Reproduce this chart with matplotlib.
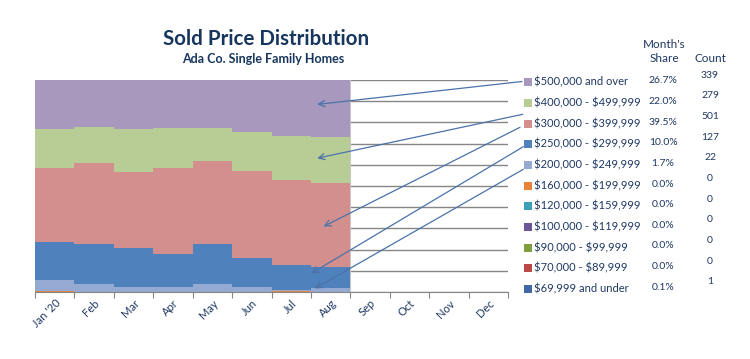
import numpy as np
import matplotlib
matplotlib.use("Agg")
from matplotlib import pyplot as plt
from matplotlib.patches import Rectangle

plt.rcParams['font.family'] = ['Lato', 'DejaVu Sans']
plt.rcParams['text.parse_math'] = False

# months on the axis
months = ["Jan '20", "Feb", "Mar", "Apr", "May", "Jun", "Jul", "Aug",
          "Sep", "Oct", "Nov", "Dec"]

# price ranges, bottom of stack first
ranges = ["$69,999 and under", "$70,000 - $89,999", "$90,000 - $99,999",
          "$100,000 - $119,999", "$120,000 - $159,999", "$160,000 - $199,999",
          "$200,000 - $249,999", "$250,000 - $299,999", "$300,000 - $399,999",
          "$400,000 - $499,999", "$500,000 and over"]

# monthly share (%) for Jan..Aug
s_069 = [0, 0, 0, 0, 0, 0, 0, 0.1]
s_070 = [0, 0, 0, 0, 0, 0, 0, 0]
s_090 = [0, 0, 0, 0, 0, 0, 0, 0]
s_100 = [0, 0, 0, 0, 0, 0, 0, 0]
s_120 = [0, 0.2, 0, 0, 0, 0, 0, 0]
s_160 = [0.3, 0, 0, 0, 0, 0, 0.3, 0]
s_200 = [5.2, 3.4, 2.4, 2.4, 3.6, 2.4, 0.8, 1.7]
s_250 = [18.0, 19.2, 18.2, 15.6, 19.1, 13.7, 11.5, 10.0]
s_300 = [35.1, 38.0, 36.1, 40.6, 39.0, 41.2, 40.2, 39.5]
s_400 = [18.1, 17.2, 20.0, 18.9, 15.8, 18.1, 20.7, 22.0]
s_500 = [23.3, 22.0, 23.3, 22.5, 22.5, 24.6, 26.5, 26.7]
shares = [s_069, s_070, s_090, s_100, s_120, s_160, s_200, s_250, s_300, s_400, s_500]

# latest month counts, bottom first
counts = [1, 0, 0, 0, 0, 0, 22, 127, 501, 279, 339]

colors = ['#4067A6', '#B94A48', '#7F9F3F', '#6E559A', '#3EA0B8', '#E8833A',
          '#95AAD3', '#4F81BD', '#D38F8E', '#B8CD95', '#A898BD']

navy = '#1F3864'

fig = plt.figure(figsize=(7.5, 3.59), dpi=100)
ax = fig.add_axes([35/750, 1-292/359, 473/750, 212/359])

# stacked step areas as bars
bottom = np.zeros(len(s_500))
x = np.arange(len(s_500))
for vals, c in zip(shares, colors):
    vals = np.array(vals)
    ax.bar(x, vals, bottom=bottom, width=1, align='edge', color=c, linewidth=0, zorder=2)
    bottom += vals

ax.set_xlim(0, 12)
ax.set_ylim(0, 100)
ax.set_yticks(np.arange(0, 101, 10))
ax.yaxis.grid(True, color='#868686', lw=1, zorder=0)
ax.set_axisbelow(True)
ax.tick_params(axis='y', left=False, labelleft=False)
ax.axvline(8, color='#C8C8C8', lw=0.8, zorder=1)

for sp in ['top', 'right', 'left']:
    ax.spines[sp].set_visible(False)
ax.spines['bottom'].set_color('#868686')

ax.set_xticks(np.arange(0, 13))
ax.set_xticklabels([])
ax.set_xticks(np.arange(12) + 0.5, minor=True)
ax.set_xticklabels(months, minor=True, rotation=45, ha='right', va='top',
                   rotation_mode='anchor', fontsize=8, color=navy)
ax.tick_params(axis='x', which='major', direction='out', length=4, color='#868686')
ax.tick_params(axis='x', which='minor', length=0, pad=4)

# titles
fig.text(266/750, 1-39/359, "Sold Price Distribution", ha='center', va='center',
         fontsize=14.8, fontweight='bold', color='#17365D')
fig.text(263/750, 1-59/359, "Ada Co. Single Family Homes", ha='center', va='center',
         fontsize=9, fontweight='bold', color='#17365D')

# right-hand legend with share and count columns
row_h = 20.65
fig.text(664/750, 1-44/359, "Month's", ha='center', va='center', fontsize=8.5, color=navy)
fig.text(664/750, 1-58/359, "Share", ha='center', va='center', fontsize=8.5, color=navy)
fig.text(710/750, 1-58/359, "Count", ha='center', va='center', fontsize=8.5, color=navy)
for k in range(len(ranges)):
    i = len(ranges) - 1 - k
    y = 82.3 + k * row_h
    fig.patches.append(Rectangle((523.5/750, 1-(y+4)/359), 8/750, 8/359,
                                 transform=fig.transFigure, facecolor=colors[i],
                                 edgecolor='none'))
    fig.text(534/750, 1-y/359, ranges[i], ha='left', va='center', fontsize=8, color=navy)
    fig.text(663/750, 1-(y-1.5)/359, "%.1f%%" % shares[i][-1], ha='center', va='center',
             fontsize=7.5, color=navy)
    fig.text(710/750, 1-(y-7)/359, str(counts[i]), ha='center', va='center',
             fontsize=7.5, color=navy)

# arrows from legend entries into the latest month
heads = [(7.16, 88.5), (7.16, 63.1), (7.32, 30.9), (7.01, 8.8), (7.10, 1.65)]
tails = [(522, 81.5), (522.7, 114.3), (520, 127.3), (523.3, 146.7), (523.3, 169.3)]
for (hx, hy), (tx, ty) in zip(heads, tails):
    ax.annotate("", xy=(hx, hy), xycoords='data',
                xytext=(tx/750, 1-ty/359), textcoords='figure fraction',
                arrowprops=dict(arrowstyle='->', color='#4A72A8', lw=0.9,
                                shrinkA=0, shrinkB=0, mutation_scale=11),
                zorder=5, annotation_clip=False)

fig.savefig("out.png", dpi=100)
